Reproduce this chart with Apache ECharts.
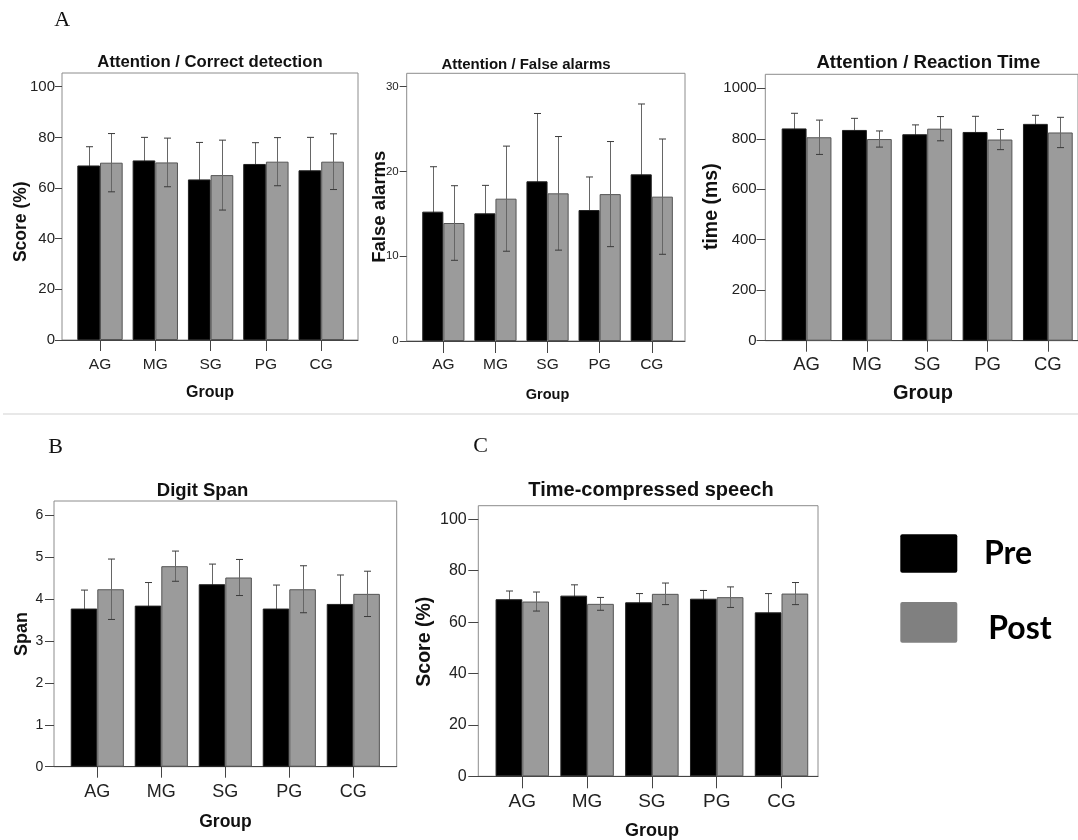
<!DOCTYPE html>
<html><head><meta charset="utf-8">
<script src="https://cdn.jsdelivr.net/npm/echarts@6/dist/echarts.min.js"></script>
<style>html,body{margin:0;padding:0;background:#fff}#c{width:1078px;height:840px}</style>
</head><body><div id="c"></div>
<script>
// ---------------- data ----------------
const groups = ['AG', 'MG', 'SG', 'PG', 'CG'];
const seriesNames = ['Pre', 'Post'];

// A1: Attention / Correct detection  (Score %)
const cdPre = [68.9, 70.9, 63.4, 69.5, 67.0];
const cdPreErr = [7.4, 9.1, 14.6, 8.4, 13.0];
const cdPost = [70.0, 70.1, 65.1, 70.4, 70.4];
const cdPostErr = [11.5, 9.6, 13.8, 9.5, 11.0];
const cdTicks = [0, 100, 20];

// A2: Attention / False alarms
const faPre = [15.26, 15.06, 18.84, 15.45, 19.66];
const faPreErr = [5.3, 3.3, 8.0, 3.9, 8.3];
const faPost = [13.92, 16.79, 17.42, 17.33, 17.03];
const faPostErr = [4.4, 6.2, 6.7, 6.2, 6.8];
const faTicks = [0, 30, 10];

// A3: Attention / Reaction Time (ms)
const rtPre = [841, 835, 818, 827, 859];
const rtPreErr = [60, 46, 37, 62, 34];
const rtPost = [806, 799, 840, 797, 825];
const rtPostErr = [68, 32, 48, 40, 60];
const rtTicks = [0, 1000, 200];

// B: Digit Span
const dsPre = [3.77, 3.84, 4.35, 3.77, 3.88];
const dsPreErr = [0.44, 0.55, 0.48, 0.56, 0.69];
const dsPost = [4.23, 4.78, 4.51, 4.23, 4.12];
const dsPostErr = [0.72, 0.36, 0.43, 0.56, 0.54];
const dsTicks = [0, 6, 1];

// C: Time-compressed speech (Score %)
const tcPre = [68.9, 70.3, 67.7, 69.1, 63.8];
const tcPreErr = [3.2, 4.2, 3.4, 3.2, 7.3];
const tcPost = [68.0, 67.1, 71.0, 69.7, 71.1];
const tcPostErr = [3.7, 2.5, 4.2, 4.0, 4.3];
const tcTicks = [0, 100, 20];

// ---------------- layout ----------------
const FONT = "'Liberation Sans', Arial, sans-serif";
const panels = [
  { title: 'Attention / Correct detection', yName: 'Score (%)', pre: cdPre, preErr: cdPreErr, post: cdPost, postErr: cdPostErr, ticks: cdTicks,
    box: [62, 73, 296, 267], cat: [72.35, 86.7, 276.5, 253.3], gap: 0.18,
    tPos: [210, 62.7, 16.7], yPos: [20.7, 221.7, 17.5], xPos: [210, 393, 16],
    xl: [15.5, 17, 11], yl: [15, 7, 7] },
  { title: 'Attention / False alarms', yName: 'False alarms', pre: faPre, preErr: faPreErr, post: faPost, postErr: faPostErr, ticks: faTicks,
    box: [406.7, 73.3, 278.3, 267.7], cat: [417.3, 86.7, 260.5, 254.3], gap: 0.19,
    tPos: [526, 65, 15], yPos: [380, 206.7, 18.5], xPos: [547.5, 395, 14.5],
    xl: [15.5, 16, 12], yl: [11.5, 8, 7] },
  { title: 'Attention / Reaction Time', yName: 'time (ms)', pre: rtPre, preErr: rtPreErr, post: rtPost, postErr: rtPostErr, ticks: rtTicks,
    box: [765.3, 74.3, 345, 266.4], cat: [776.4, 88.3, 303, 252.4], gap: 0.175,
    tPos: [928.3, 63.3, 18.6], yPos: [712, 206.7, 19.5], xPos: [923, 393.3, 20],
    xl: [18.5, 15, 11], yl: [15, 8.6, 8.7] },
  { title: 'Digit Span', yName: 'Span', pre: dsPre, preErr: dsPreErr, post: dsPost, postErr: dsPostErr, ticks: dsTicks,
    box: [54, 501, 342.7, 265.7], cat: [65.3, 515, 320, 251.7], gap: 0.17,
    tPos: [202.5, 490.7, 18.5], yPos: [21.7, 634, 18], xPos: [225.5, 821.7, 17.5],
    xl: [18, 16, 11], yl: [14, 10.7, 9] },
  { title: 'Time-compressed speech', yName: 'Score (%)', pre: tcPre, preErr: tcPreErr, post: tcPost, postErr: tcPostErr, ticks: tcTicks,
    box: [478.3, 505.7, 339.7, 270.6], cat: [489.9, 519.3, 324, 257], gap: 0.175,
    tPos: [651, 490.7, 20], yPos: [425, 641.7, 19.5], xPos: [652, 830.7, 18],
    xl: [19, 16, 12], yl: [16, 11.6, 10] }
];

const grid = [], xAxis = [], yAxis = [], series = [], graphic = [];

// side: -1 = Pre (left bar), +1 = Post (right bar)
function errSeries(idx, means, errs, side, gap) {
  return {
    type: 'custom', xAxisIndex: idx, yAxisIndex: idx, z: side < 0 ? 1 : 5, silent: true,
    data: groups.map((g, j) => [j, means[j], errs[j]]),
    encode: { x: 0, y: 1 },
    renderItem: function (params, api) {
      const j = api.value(0), m = api.value(1), e = api.value(2);
      const hi = api.coord([j, m + e]);
      const lo = api.coord([j, m - e]);
      const band = api.size([1, 0])[0];
      const bw = band * (1 - gap) / 2;
      const x = Math.round(hi[0] + side * bw / 2) + 0.5;
      const cap = 3.5;
      const st = { stroke: '#3a3a3a', lineWidth: 1 };
      return { type: 'group', children: [
        { type: 'line', shape: { x1: x, y1: hi[1], x2: x, y2: lo[1] }, style: { stroke: '#666', lineWidth: 1 } },
        { type: 'line', shape: { x1: x - cap, y1: hi[1], x2: x + cap, y2: hi[1] }, style: st },
        { type: 'line', shape: { x1: x - cap, y1: lo[1], x2: x + cap, y2: lo[1] }, style: st }
      ] };
    }
  };
}

function txt(x, y, text, size, opts) {
  opts = opts || {};
  return { type: 'text', x: x, y: y, rotation: opts.rot || 0, z: 10,
    style: { text: text, fontSize: size, fontWeight: opts.weight || 'bold', fontFamily: opts.family || FONT,
      fill: opts.fill || '#111', align: opts.align || 'center', verticalAlign: 'middle' } };
}

panels.forEach((p, i) => {
  const bi = 2 * i, ci = 2 * i + 1;
  grid.push({ left: p.box[0], top: p.box[1], width: p.box[2], height: p.box[3], show: true,
    borderColor: '#8c8c8c', borderWidth: 1, backgroundColor: 'transparent' });
  grid.push({ left: p.cat[0], top: p.cat[1], width: p.cat[2], height: p.cat[3] });
  xAxis.push({ gridIndex: bi, type: 'value', min: 0, max: 1, axisLine: { show: true, lineStyle: { color: '#444', width: 1 } },
    axisTick: { show: false }, axisLabel: { show: false }, splitLine: { show: false } });
  yAxis.push({ gridIndex: bi, type: 'value', min: 0, max: 1, show: false });
  xAxis.push({ gridIndex: ci, type: 'category', data: groups,
    axisLine: { show: false },
    axisTick: { show: true, alignWithLabel: true, length: p.xl[2], lineStyle: { color: '#444' } },
    axisLabel: { fontSize: p.xl[0], margin: p.xl[1], color: '#222', fontFamily: FONT } });
  yAxis.push({ gridIndex: ci, type: 'value', min: p.ticks[0], max: p.ticks[1], interval: p.ticks[2],
    offset: p.cat[0] - p.box[0],
    axisLine: { show: false },
    axisTick: { show: true, length: p.yl[2], lineStyle: { color: '#444' } },
    axisLabel: { fontSize: p.yl[0], margin: p.yl[1], color: '#222', fontFamily: FONT, formatter: v => String(v) },
    splitLine: { show: false } });
  series.push({ name: seriesNames[0], type: 'bar', xAxisIndex: ci, yAxisIndex: ci, data: p.pre, z: 2,
    barGap: '0%', barCategoryGap: (p.gap * 100) + '%',
    itemStyle: { color: '#000', borderColor: '#222', borderWidth: 1 } });
  series.push({ name: seriesNames[1], type: 'bar', xAxisIndex: ci, yAxisIndex: ci, data: p.post, z: 2,
    barGap: '0%', barCategoryGap: (p.gap * 100) + '%',
    itemStyle: { color: '#9b9b9b', borderColor: '#555', borderWidth: 1 } });
  series.push(errSeries(ci, p.pre, p.preErr, -1, p.gap));
  series.push(errSeries(ci, p.post, p.postErr, 1, p.gap));
  graphic.push(txt(p.tPos[0], p.tPos[1], p.title, p.tPos[2]));
  graphic.push(txt(p.yPos[0], p.yPos[1], p.yName, p.yPos[2], { rot: Math.PI / 2 }));
  graphic.push(txt(p.xPos[0], p.xPos[1], 'Group', p.xPos[2]));
});

// panel letters
const SERIF = "'Liberation Serif', 'Times New Roman', serif";
graphic.push(txt(62.3, 20.7, 'A', 22, { weight: 'normal', family: SERIF }));
graphic.push(txt(55.5, 447.7, 'B', 22, { weight: 'normal', family: SERIF }));
graphic.push(txt(480.5, 446.7, 'C', 22, { weight: 'normal', family: SERIF }));
// divider
graphic.push({ type: 'line', shape: { x1: 3, y1: 414, x2: 1078, y2: 414 }, style: { stroke: '#e8e8e8', lineWidth: 2 } });
// legend
graphic.push({ type: 'rect', shape: { x: 900.3, y: 534.3, width: 57, height: 38.4, r: 2 }, style: { fill: '#000' } });
graphic.push({ type: 'rect', shape: { x: 900.3, y: 602, width: 57, height: 40.7, r: 2 }, style: { fill: '#808080' } });
graphic.push(txt(984, 553.3, seriesNames[0], 32, { align: 'left', family: "Lato, 'Noto Sans', sans-serif", fill: '#000' }));
graphic.push(txt(988.3, 628.3, seriesNames[1], 32, { align: 'left', family: "Lato, 'Noto Sans', sans-serif", fill: '#000' }));

const chart = echarts.init(document.getElementById('c'), null, { renderer: 'canvas' });
chart.setOption({ animation: false, backgroundColor: '#fff', textStyle: { fontFamily: FONT },
  grid: grid, xAxis: xAxis, yAxis: yAxis, series: series, graphic: graphic });
</script></body></html>
